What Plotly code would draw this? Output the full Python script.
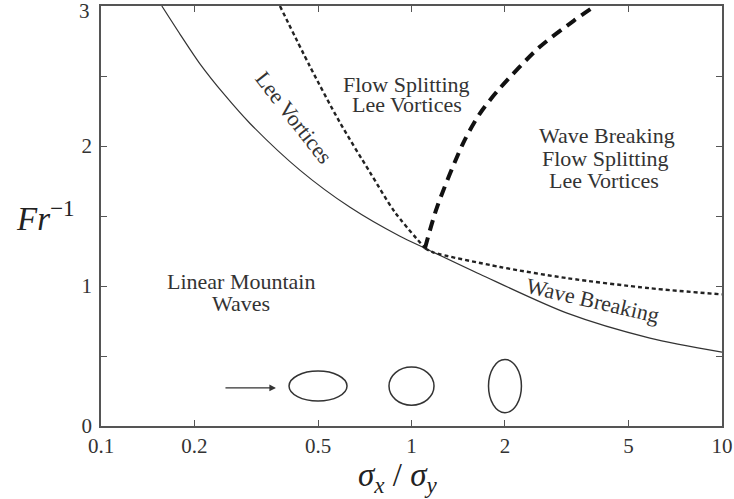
import math
import plotly.graph_objects as go

# ---- data ----
solid_x = [0.157, 0.180, 0.208, 0.251, 0.302, 0.438, 0.634, 0.918, 1.105, 1.662, 3.17, 5.86, 10.0]
solid_y = [3.0, 2.796, 2.589, 2.361, 2.161, 1.826, 1.562, 1.355, 1.27, 1.084, 0.806, 0.628, 0.528]

split_x = [0.377, 0.471, 0.588, 0.735, 0.885, 1.105]
split_y = [3.0, 2.568, 2.168, 1.812, 1.526, 1.27]

split_low_x = [1.105, 1.173, 1.928, 3.17, 5.86, 10.0]
split_low_y = [1.27, 1.241, 1.136, 1.056, 0.984, 0.94]

break_x = [1.105, 1.208, 1.466, 1.662, 1.899, 2.574, 3.337, 3.90]
break_y = [1.27, 1.562, 2.019, 2.233, 2.397, 2.703, 2.896, 3.0]

x_tickvals = [0.1, 0.2, 0.5, 1, 2, 5, 10]
x_ticktext = ["0.1", "0.2", "0.5", "1", "2", "5", "10"]
y_tickvals = [0, 0.5, 1, 1.5, 2, 2.5, 3]
y_ticktext = ["0", "", "1", "", "2", "", ""]
y_top_label = ("3", 3)   # top label drawn just inside the page edge

ellipse_ratios = [0.5, 1, 2]
ellipse_y = 0.285
arrow_tip = (0.366, 0.272)

# labels: (text, x, y, angle)
labels = [
    ("Linear Mountain", 0.2825, 1.034, 0),
    ("Waves", 0.2825, 0.877, 0),
    ("Flow Splitting", 0.967, 2.44, 0),
    ("Lee Vortices", 0.965, 2.297, 0),
    ("Wave Breaking", 4.25, 2.076, 0),
    ("Flow Splitting", 4.22, 1.91, 0),
    ("Lee Vortices", 4.17, 1.755, 0),
    ("Lee Vortices", 0.418, 2.204, 52),
    ("Wave Breaking", 3.84, 0.899, 13),
]

SERIF = "Liberation Serif, Times New Roman, serif"
INK = "#333333"

fig = go.Figure()
fig.add_trace(go.Scatter(x=solid_x, y=solid_y, mode="lines",
                         line=dict(color=INK, width=1.2, shape="spline", smoothing=0.8),
                         showlegend=False, hoverinfo="skip"))
fig.add_trace(go.Scatter(x=split_x, y=split_y, mode="lines",
                         line=dict(color="#222", width=2.4, dash="4px,3px", shape="spline", smoothing=0.8),
                         showlegend=False, hoverinfo="skip"))
fig.add_trace(go.Scatter(x=split_low_x, y=split_low_y, mode="lines",
                         line=dict(color="#222", width=2.4, dash="4px,3px", shape="spline", smoothing=0.8),
                         showlegend=False, hoverinfo="skip"))
fig.add_trace(go.Scatter(x=break_x, y=break_y, mode="lines",
                         line=dict(color="#111", width=4, dash="11px,7px", shape="spline", smoothing=0.8),
                         showlegend=False, hoverinfo="skip"))

# ellipses (obstacle shapes): half-widths in decades of x, half-heights in y units
ell_half = [(0.0934, 0.107), (0.0725, 0.136), (0.053, 0.19)]
shapes = []
for r, (hw, hh) in zip(ellipse_ratios, ell_half):
    shapes.append(dict(type="circle", xref="x", yref="y",
                       x0=r * 10 ** (-hw), x1=r * 10 ** hw,
                       y0=ellipse_y - hh, y1=ellipse_y + hh,
                       line=dict(color=INK, width=1.5)))

annotations = []
for text, x, y, ang in labels:
    annotations.append(dict(text=text, x=math.log10(x), y=y, xref="x", yref="y",
                            showarrow=False, textangle=ang,
                            xanchor="center", yanchor="middle",
                            font=dict(family=SERIF, size=22, color=INK)))
# top y tick label
annotations.append(dict(text=y_top_label[0], x=0, y=y_top_label[1], xref="paper", yref="y",
                        xanchor="right", yanchor="middle", xshift=-9, yshift=-5,
                        showarrow=False, font=dict(family=SERIF, size=21, color="#333")))
# flow-direction arrow
annotations.append(dict(text="", x=math.log10(arrow_tip[0]), y=arrow_tip[1], xref="x", yref="y",
                        showarrow=True, ax=-52, ay=0, arrowhead=2, arrowsize=1.1,
                        arrowwidth=1.2, arrowcolor=INK))
# axis titles
annotations.append(dict(text="<i>Fr</i><sup>−1</sup>", x=0, y=1.5, xref="paper", yref="y",
                        xanchor="right", yanchor="middle", xshift=-24, showarrow=False,
                        font=dict(family=SERIF, size=33, color="#222")))
annotations.append(dict(text="<i>σ<sub>x</sub></i> / <i>σ<sub>y</sub></i>", x=math.log10(0.905), y=0,
                        xref="x", yref="paper", xanchor="center", yanchor="middle", yshift=-51,
                        showarrow=False, font=dict(family=SERIF, size=33, color="#222")))

axis_common = dict(showline=True, linecolor="#555", linewidth=1.5, mirror="allticks",
                   ticks="inside", ticklen=6, tickwidth=1.3, tickcolor="#555",
                   showgrid=False, zeroline=False, ticklabeloverflow="allow", automargin=False,
                   tickfont=dict(family=SERIF, size=21, color="#333"))

fig.update_layout(
    width=734, height=499,
    margin=dict(l=101, r=12, t=6, b=73),
    plot_bgcolor="white", paper_bgcolor="white",
    xaxis=dict(type="log", range=[-1, 1], tickvals=x_tickvals, ticktext=x_ticktext,
               ticklabelstandoff=0, **axis_common),
    yaxis=dict(range=[0, 3], tickvals=y_tickvals, ticktext=y_ticktext,
               ticklabelstandoff=3, **axis_common),
    shapes=shapes,
    annotations=annotations,
)

fig.write_html("out.html")
